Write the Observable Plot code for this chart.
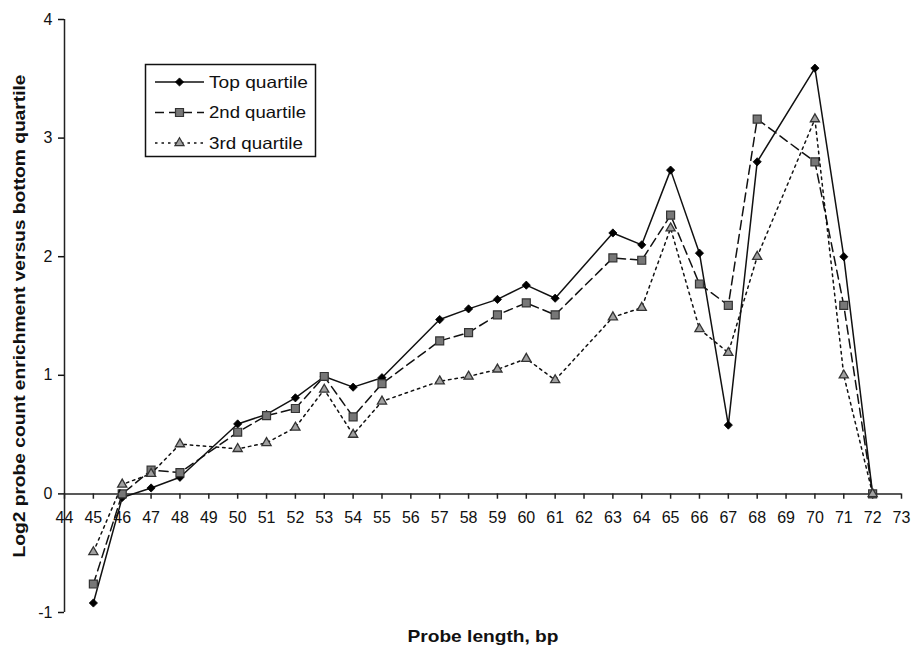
<!DOCTYPE html>
<html>
<head>
<meta charset="utf-8">
<script src="https://cdn.jsdelivr.net/npm/d3@7"></script>
<script src="https://cdn.jsdelivr.net/npm/@observablehq/plot@0.6"></script>
<style>
  body { margin: 0; background: #fff; }
  #wrap { position: relative; width: 912px; height: 650px; font-family: "Liberation Sans", Arial, sans-serif; }
  #legend { position: absolute; left: 0; top: 0; pointer-events: none; }
</style>
</head>
<body>
<div id="wrap"></div>
<script>
// Probe lengths (bp) that have data
const probeLength = [45, 46, 47, 48, 50, 51, 52, 53, 54, 55, 57, 58, 59, 60, 61, 63, 64, 65, 66, 67, 68, 70, 71, 72];
// Log2 enrichment values per series
const topQuartile    = [-0.92, -0.03, 0.05, 0.14, 0.59, 0.67, 0.81, 0.99, 0.90, 0.98, 1.47, 1.56, 1.64, 1.76, 1.65, 2.20, 2.10, 2.73, 2.03, 0.58, 2.80, 3.59, 2.00, 0];
const secondQuartile = [-0.76, 0.00, 0.20, 0.18, 0.52, 0.66, 0.72, 0.99, 0.65, 0.93, 1.29, 1.36, 1.51, 1.61, 1.51, 1.99, 1.97, 2.35, 1.77, 1.59, 3.16, 2.80, 1.59, 0];
const thirdQuartile  = [-0.49, 0.08, 0.17, 0.42, 0.38, 0.43, 0.56, 0.88, 0.50, 0.78, 0.95, 0.99, 1.05, 1.14, 0.96, 1.49, 1.57, 2.24, 1.39, 1.19, 2.00, 3.16, 1.00, 0];
const seriesNames = ["Top quartile", "2nd quartile", "3rd quartile"];
// Tick labels
const xTicks = [44, 45, 46, 47, 48, 49, 50, 51, 52, 53, 54, 55, 56, 57, 58, 59, 60, 61, 62, 63, 64, 65, 66, 67, 68, 69, 70, 71, 72, 73];
const yTicks = [-1, 0, 1, 2, 3, 4];
const yTitle = "Log2 probe count enrichment versus bottom quartile";
const xTitle = "Probe length, bp";

const toRows = (vals) => probeLength.map((x, i) => ({x, y: vals[i]}));
const rowsTop = toRows(topQuartile), rowsSecond = toRows(secondQuartile), rowsThird = toRows(thirdQuartile);

const ink = "#111";
const styles = [
  {dash: null, symbol: "diamond2", fill: "#000", r: 3.7},
  {dash: "9,5", symbol: "square", fill: "#777", r: 4.5},
  {dash: "2.5,4", symbol: "triangle", fill: "#a0a0a0", r: 3.4}
];

const chart = Plot.plot({
  width: 912,
  height: 650,
  marginLeft: 64,
  marginRight: 11,
  marginTop: 19,
  marginBottom: 38,
  x: {domain: [44, 73], axis: null},
  y: {domain: [-1, 4], axis: null},
  style: {fontFamily: "'Liberation Sans', Arial, sans-serif", fontSize: "16px", color: ink, background: "#fff"},
  marks: [
    Plot.ruleX([44], {stroke: "#222", strokeWidth: 1.5}),
    Plot.ruleY([0], {stroke: "#222", strokeWidth: 1.5}),
    Plot.axisY({ticks: yTicks, tickSize: 6, tickPadding: 6, label: null, fontSize: 16, tickFormat: d => String(d), strokeWidth: 1.5}),
    Plot.ruleX(xTicks, {x: d => d, y1: 0, y2: -0.045, stroke: "#222", strokeWidth: 1.5}),
    Plot.text(xTicks, {x: d => d, y: 0, dy: 24, text: d => String(d), fontSize: 16, fill: ink}),
    // Top quartile
    Plot.line(rowsTop, {x: "x", y: "y", stroke: ink, strokeWidth: 1.5}),
    Plot.dot(rowsTop, {x: "x", y: "y", symbol: styles[0].symbol, r: styles[0].r, fill: styles[0].fill, stroke: "#000", strokeWidth: 0.8}),
    // 2nd quartile
    Plot.line(rowsSecond, {x: "x", y: "y", stroke: ink, strokeWidth: 1.5, strokeDasharray: styles[1].dash}),
    Plot.dot(rowsSecond, {x: "x", y: "y", symbol: styles[1].symbol, r: styles[1].r, fill: styles[1].fill, stroke: "#333", strokeWidth: 1.2}),
    // 3rd quartile
    Plot.line(rowsThird, {x: "x", y: "y", stroke: ink, strokeWidth: 1.5, strokeDasharray: styles[2].dash}),
    Plot.dot(rowsThird, {x: "x", y: "y", symbol: styles[2].symbol, r: styles[2].r, fill: styles[2].fill, stroke: "#333", strokeWidth: 1.3}),
    // Axis titles
    Plot.text([yTitle], {frameAnchor: "left", textAnchor: "middle", dx: -45, rotate: -90, fontWeight: "bold", fontSize: 17, fill: ink}),
    Plot.text([xTitle], {frameAnchor: "bottom", textAnchor: "middle", dy: 29, fontWeight: "bold", fontSize: 17, fill: ink})
  ]
});

const wrap = document.getElementById("wrap");
wrap.appendChild(chart);

// Stretch titles horizontally to the reference's proportions
d3.select(chart).selectAll("text").each(function() {
  const t = this.textContent;
  if (t === yTitle) { this.setAttribute("textLength", 483); this.setAttribute("lengthAdjust", "spacingAndGlyphs"); }
  if (t === xTitle) { this.setAttribute("textLength", 151); this.setAttribute("lengthAdjust", "spacingAndGlyphs"); }
});

// Legend overlay
const sym = {diamond2: d3.symbolDiamond2, square: d3.symbolSquare, triangle: d3.symbolTriangle};
const legendWidths = [99, 97, 94];
const lg = d3.select(wrap).append("svg").attr("id", "legend").attr("width", 912).attr("height", 650);
lg.append("rect").attr("x", 145.5).attr("y", 64.5).attr("width", 170).attr("height", 92)
  .attr("fill", "#fff").attr("stroke", "#111").attr("stroke-width", 1.5);
seriesNames.forEach((name, i) => {
  const cy = 82 + i * 30.5;
  const st = styles[i];
  lg.append("line").attr("x1", 155).attr("x2", 204).attr("y1", cy).attr("y2", cy)
    .attr("stroke", ink).attr("stroke-width", 1.5).attr("stroke-dasharray", st.dash);
  lg.append("path").attr("d", d3.symbol(sym[st.symbol], st.r * st.r * Math.PI)())
    .attr("transform", `translate(179.5,${cy})`)
    .attr("fill", st.fill).attr("stroke", i === 0 ? "#000" : "#333").attr("stroke-width", i === 0 ? 0.8 : 1.2);
  lg.append("text").attr("x", 209).attr("y", cy).attr("dy", "0.35em")
    .attr("font-size", 16.5).attr("fill", ink)
    .attr("textLength", legendWidths[i]).attr("lengthAdjust", "spacingAndGlyphs")
    .attr("font-family", "'Liberation Sans', Arial, sans-serif").text(name);
});
</script>
</body>
</html>
